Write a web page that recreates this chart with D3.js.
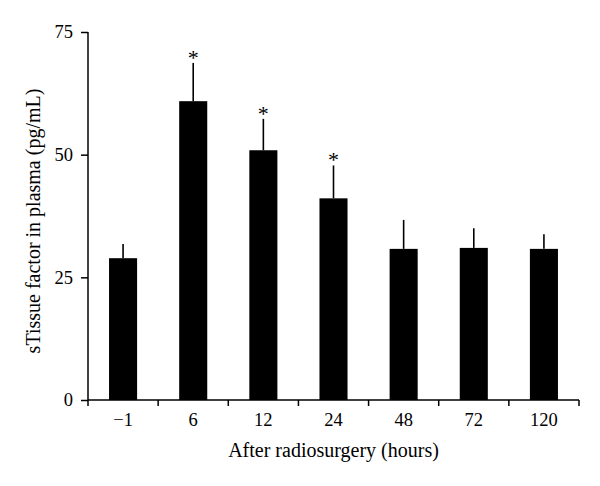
<!DOCTYPE html>
<html>
<head>
<meta charset="utf-8">
<script src="https://cdn.jsdelivr.net/npm/d3@7"></script>
<style>
    body { margin: 0; background: #fff; }
    svg text { font-family: "Liberation Serif", "DejaVu Serif", serif; fill: #000; }
</style>
</head>
<body>
<div id="chart"></div>
<script>
// values
const hours = ['\u22121', '6', '12', '24', '48', '72', '120'];
const means = [28.9, 60.9, 50.9, 41.1, 30.8, 31.0, 30.8];
const errors = [2.9, 7.8, 6.4, 6.7, 5.9, 4.0, 3.0];
const significant = [false, true, true, true, false, false, false];
const yTicks = [0, 25, 50, 75];

const width = 600, height = 486;
const margin = {top: 32, right: 21, bottom: 86, left: 88};

const svg = d3.select('#chart')
    .append('svg')
    .attr('width', width)
    .attr('height', height);

const x = d3.scaleBand()
    .domain(hours)
    .range([margin.left, width - margin.right])
    .paddingInner(0.6)
    .paddingOuter(0.3);

const y = d3.scaleLinear()
    .domain([0, 75])
    .range([height - margin.bottom, margin.top]);

const data = hours.map((h, i) => ({h, v: means[i], e: errors[i], sig: significant[i]}));

// error bars (top half only)
svg.append('g')
    .selectAll('line')
    .data(data)
    .join('line')
    .attr('x1', d => x(d.h) + x.bandwidth() / 2)
    .attr('x2', d => x(d.h) + x.bandwidth() / 2)
    .attr('y1', d => y(d.v))
    .attr('y2', d => y(d.v + d.e))
    .attr('stroke', '#000')
    .attr('stroke-width', 1.6);

svg.append('g')
    .selectAll('rect')
    .data(data)
    .join('rect')
    .attr('x', d => x(d.h))
    .attr('y', d => y(d.v))
    .attr('width', x.bandwidth())
    .attr('height', d => y(0) - y(d.v))
    .attr('fill', '#000');

svg.append('g')
    .selectAll('text')
    .data(data.filter(d => d.sig))
    .join('text')
    .attr('x', d => x(d.h) + x.bandwidth() / 2)
    .attr('y', d => y(d.v + d.e) + 2)
    .attr('text-anchor', 'middle')
    .style('font-size', '22px')
    .text('*');

// y axis
const yAxis = svg.append('g')
    .attr('transform', `translate(${margin.left},0)`)
    .call(d3.axisLeft(y).tickValues(yTicks).tickSize(7).tickPadding(8));
yAxis.select('.domain').attr('d', `M0,${y(75)}V${y(0) + 6}`);

// x axis: ticks sit between the bars
const bounds = d3.range(hours.length + 1).map(i => margin.left + i * (width - margin.left - margin.right) / hours.length);
const xAxis = svg.append('g')
    .attr('transform', `translate(0,${y(0)})`);
xAxis.append('path')
    .attr('d', `M${margin.left},0H${width - margin.right}`)
    .attr('stroke', '#000')
    .attr('stroke-width', 1.5)
    .attr('fill', 'none');
xAxis.selectAll('line.tick')
    .data(bounds.slice(1))
    .join('line')
    .attr('class', 'tick')
    .attr('x1', d => d).attr('x2', d => d)
    .attr('y1', 0).attr('y2', 6)
    .attr('stroke', '#000')
    .attr('stroke-width', 1.5);
xAxis.selectAll('text')
    .data(hours)
    .join('text')
    .attr('x', d => x(d) + x.bandwidth() / 2)
    .attr('y', 26)
    .attr('text-anchor', 'middle')
    .style('font-size', '18.5px')
    .text(d => d);

svg.selectAll('.tick text').style('font-size', '18.5px');
svg.selectAll('.domain, .tick line').attr('stroke', '#000').attr('stroke-width', 1.5);

svg.append('text')
    .attr('x', (margin.left + width - margin.right) / 2)
    .attr('y', 457)
    .attr('text-anchor', 'middle')
    .style('font-size', '20px')
    .text('After radiosurgery (hours)');

svg.append('text')
    .attr('transform', `translate(40,${(y(0) + y(75)) / 2 + 5}) rotate(-90)`)
    .attr('text-anchor', 'middle')
    .style('font-size', '20px')
    .text('sTissue factor in plasma (pg/mL)');
</script>
</body>
</html>
